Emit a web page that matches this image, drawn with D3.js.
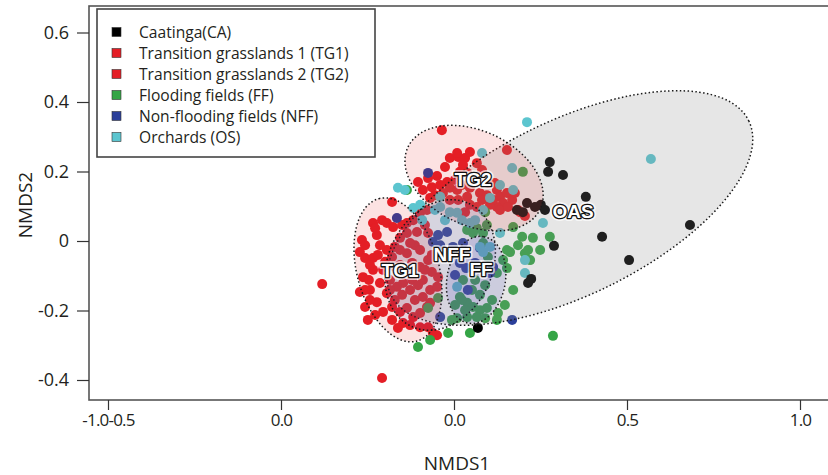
<!DOCTYPE html>
<html>
<head>
<meta charset="utf-8">
<script src="https://cdn.jsdelivr.net/npm/d3@7/dist/d3.min.js"></script>
<style>
  html, body { margin: 0; padding: 0; background: #fff; }
  svg { display: block; }
</style>
</head>
<body>
<svg id="chart" width="828" height="475"></svg>
<script>
// ---- data: NMDS scores per site (NMDS1, NMDS2) ----
const caatinga = [
  [0.277,0.227],[0.272,0.199],[0.315,0.190],[0.381,0.127],[0.428,0.012],[0.289,-0.014],
  [0.506,-0.055],[0.682,0.046],[0.223,-0.109],[0.214,-0.121],[0.182,0.089],[0.199,0.083],
  [0.211,0.109],[0.234,0.098],[0.251,0.104],[0.263,0.089],[0.069,-0.250]
];
const tg1 = [
  [-0.381,-0.124],[-0.208,-0.394],[-0.179,0.112],[-0.266,0.003],[-0.272,-0.032],[-0.257,-0.049],
  [-0.234,0.052],[-0.208,0.060],[-0.223,0.017],[-0.263,-0.104],[-0.246,-0.112],[-0.234,-0.083],
  [-0.257,-0.190],[-0.223,-0.176],[-0.179,-0.190],[-0.194,-0.150],[-0.150,-0.155],[-0.136,-0.193],
  [-0.118,-0.219],[-0.098,-0.207],[-0.078,-0.190],[-0.090,-0.161],[-0.069,-0.141],[-0.049,-0.132],
  [-0.046,-0.104],[-0.090,-0.112],[-0.121,-0.112],[-0.147,-0.121],[-0.205,-0.083],[-0.234,-0.049],
  [-0.194,-0.026],[-0.171,-0.017],[-0.156,0.009],[-0.136,0.023],[-0.107,0.026],[-0.118,0.060],
  [-0.098,0.081],[-0.078,0.089],[-0.084,0.046],[-0.136,-0.035],[-0.121,-0.063],[-0.098,-0.075],
  [-0.075,-0.055],[-0.171,-0.075],[-0.179,-0.046],[-0.243,-0.141],[-0.272,-0.147],[-0.165,-0.132],
  [-0.214,-0.121],[-0.194,0.052],[-0.176,0.040],[-0.136,0.052],[-0.064,-0.089],[-0.179,-0.227],
  [-0.147,-0.236],[-0.098,-0.248],[-0.075,-0.248],[-0.249,-0.227],[-0.156,-0.204],[-0.069,-0.178],
  [-0.061,-0.265],[-0.049,-0.271],[-0.214,-0.012],[-0.185,-0.112],[-0.113,-0.012],[-0.098,-0.026],
  [-0.156,-0.069],[-0.228,-0.213],
  [-0.257,-0.012],[-0.243,-0.069],[-0.220,-0.040],[-0.199,-0.060],[-0.185,-0.141],[-0.171,-0.170],
  [-0.142,-0.083],[-0.127,-0.141],[-0.113,-0.170],[-0.104,-0.127],[-0.084,-0.083],[-0.156,-0.026],
  [-0.127,-0.006],[-0.150,0.046],[-0.243,-0.170],[-0.205,-0.204],[-0.162,-0.250],[-0.127,-0.242],
  [-0.228,0.037],[-0.064,-0.040],[-0.257,-0.141]
];
const tg2 = [
  [-0.035,0.319],[-0.012,0.239],[0.012,0.242],[0.032,0.239],[0.046,0.256],[0.066,0.224],
  [0.017,0.199],[0.038,0.196],[0.081,0.204],[-0.104,0.170],[-0.090,0.147],[-0.064,0.155],
  [-0.040,0.161],[-0.020,0.170],[-0.055,0.132],[-0.032,0.138],[-0.012,0.153],[0.009,0.147],
  [-0.012,0.118],[0.012,0.118],[0.038,0.127],[0.046,0.104],[0.066,0.098],[0.124,0.147],
  [0.133,0.127],[0.153,0.138],[0.168,0.118],[0.142,0.109],[0.124,0.098],[0.104,0.104],
  [0.153,0.262],[0.185,0.089],[0.205,0.072],[0.133,0.089],[0.075,0.138],[0.046,0.153],
  [0.032,0.083],[0.009,0.253],[-0.075,0.023],[0.098,0.167],[0.191,0.083],
  [-0.075,0.181],[-0.049,0.187],[0.003,0.176],[0.023,0.161],[0.095,0.132],[0.113,0.118],
  [0.081,0.118],[0.156,0.098],[0.176,0.138],[0.026,0.219],[-0.026,0.213],[-0.069,0.124],
  [0.118,0.167]
];
const ff = [
  [0.199,0.199],[-0.136,0.147],[0.090,0.083],[0.038,0.032],[0.066,0.037],[0.095,0.046],
  [0.171,0.040],[0.197,0.012],[0.228,0.009],[0.277,0.012],[0.084,0.023],[0.162,-0.032],
  [0.205,-0.035],[0.153,-0.026],[0.142,-0.055],[0.153,-0.078],[0.098,-0.046],[0.124,-0.092],
  [0.171,-0.141],[0.127,-0.207],[0.286,-0.273],[-0.075,-0.193],[-0.046,-0.164],[-0.006,-0.227],
  [0.009,-0.222],[-0.017,-0.265],[0.046,-0.265],[0.017,-0.161],[0.038,-0.178],[0.055,-0.190],
  [0.075,-0.199],[0.095,-0.193],[0.124,-0.227],[0.066,-0.219],[0.038,-0.219],[-0.104,-0.305],
  [-0.069,-0.285],[0.023,-0.170],[0.052,-0.141],[0.075,-0.155],[0.090,-0.127],[0.061,-0.112],
  [0.026,-0.112],[0.220,-0.055],[0.214,-0.026],[0.055,0.023],[0.084,-0.006],
  [0.003,-0.184],[0.032,-0.199],[0.090,-0.222],[0.110,-0.170],[0.147,-0.184],[0.185,-0.012],
  [0.249,-0.026]
];
const nff = [
  [-0.075,0.196],[-0.165,0.066],[-0.046,0.017],[-0.020,0.026],[-0.040,-0.012],[-0.003,-0.017],
  [0.017,-0.063],[0.035,-0.078],[0.075,-0.020],[0.113,-0.075],[0.040,-0.141],[-0.040,-0.219],
  [0.168,-0.227],[0.104,-0.092],[0.026,-0.006],[-0.026,-0.040],[-0.061,-0.003],[0.003,-0.098],
  [0.061,-0.063]
];
const orchards = [
  [0.211,0.342],[0.569,0.236],[0.081,0.253],[0.168,0.210],[0.171,0.147],[0.133,0.161],
  [0.104,0.124],[0.257,0.052],[0.133,0.023],[0.205,-0.055],[0.205,-0.092],[0.104,-0.017],
  [0.084,-0.032],[-0.162,0.153],[-0.142,0.147],[-0.118,0.095],[-0.098,0.104],[-0.092,0.060],
  [-0.055,0.089],[-0.040,0.098],[-0.012,0.083],[0.009,0.081],[-0.026,0.060],[0.023,0.060],
  [0.046,0.052],[0.061,0.060],[0.084,0.089],[0.009,-0.132],[0.075,-0.017],[-0.040,0.127]
];

// legend entries
const legendLabels = [
  "Caatinga(CA)",
  "Transition grasslands 1 (TG1)",
  "Transition grasslands 2 (TG2)",
  "Flooding fields (FF)",
  "Non-flooding fields (NFF)",
  "Orchards (OS)"
];
const legendColors = ["#000000", "#e41e26", "#e41e26", "#35a546", "#2b3f9a", "#5cc5cf"];

// dispersion ellipses: centre, semi-axes (NMDS units), rotation (degrees)
const ellipseNames = ["CA", "TG2", "TG1", "NFF", "FF"];
const ellipseCx    = [0.335, 0.058, -0.162, -0.040, 0.064];
const ellipseCy    = [0.095, 0.181, -0.083, -0.069, -0.112];
const ellipseA     = [0.575, 0.211, 0.213, 0.196, 0.127];
const ellipseB     = [0.251, 0.136, 0.118, 0.150, 0.084];
const ellipseAngle = [26, -25, 105, 65, 80];
const ellipseFill  = ["rgba(140,140,140,0.22)", "rgba(230,30,30,0.13)", "rgba(230,30,30,0.13)",
                      "rgba(90,70,170,0.11)", "rgba(60,60,180,0.15)"];

// group labels
const groupLabels = ["TG2", "TG1", "NFF", "FF", "OAS"];
const groupLabelX = [0.055, -0.156, -0.006, 0.078, 0.344];
const groupLabelY = [0.178, -0.086, -0.040, -0.083, 0.086];

// axes
const xTickValues = [-1.0, -0.5, 0.0, 0.5, 1.0];
const xTickLabels = ["-1.0-0.5", "0.0", "0.0", "0.5", "1.0"];
const yTickValues = [-0.4, -0.2, 0, 0.2, 0.4, 0.6];
const yTickLabels = ["-0.4", "-0.2", "0", "0.2", "0.4", "0.6"];

// ---- drawing ----
const svg = d3.select("#chart");
const box = { left: 89, top: 6, right: 829, bottom: 400 };

const x = d3.scaleLinear().domain([-1, 1]).range([108, 800]);
const y = d3.scaleLinear().domain([-0.4, 0.6]).range([380, 32.5]);

const axisFont = "'Open Sans', 'DejaVu Sans', sans-serif";
const textColor = "#231f20";

// plot frame
svg.append("rect")
  .attr("x", box.left).attr("y", box.top)
  .attr("width", box.right - box.left).attr("height", box.bottom - box.top)
  .attr("fill", "none").attr("stroke", "#555").attr("stroke-width", 1.6);

// points
const groups = [
  { data: tg1, color: legendColors[1] },
  { data: tg2, color: legendColors[2] },
  { data: ff, color: legendColors[3] },
  { data: nff, color: legendColors[4] },
  { data: orchards, color: legendColors[5] },
  { data: caatinga, color: legendColors[0] }
];
const pts = svg.append("g");
groups.forEach(g => {
  pts.selectAll(null).data(g.data).enter().append("circle")
    .attr("cx", d => x(d[0])).attr("cy", d => y(d[1]))
    .attr("r", 5).attr("fill", g.color);
});

// ellipses (drawn over the points, translucent)
const kx = x(1) - x(0), ky = y(0) - y(1);
const ell = svg.append("g");
ellipseNames.forEach((n, i) => {
  ell.append("ellipse")
    .attr("transform", `translate(${x(ellipseCx[i])},${y(ellipseCy[i])}) rotate(${-ellipseAngle[i]})`)
    .attr("rx", ellipseA[i] * kx).attr("ry", ellipseB[i] * ky)
    .attr("fill", ellipseFill[i])
    .attr("stroke", "#1a1a1a").attr("stroke-width", 1.5)
    .attr("stroke-dasharray", "1.5,2.4");
});

// group labels: white letters with dark outline
const lab = svg.append("g")
  .attr("font-family", "'Liberation Sans', Arial, sans-serif")
  .attr("font-size", 19).attr("font-weight", "bold")
  .attr("text-anchor", "middle").attr("dominant-baseline", "central");
groupLabels.forEach((t, i) => {
  lab.append("text").attr("x", x(groupLabelX[i])).attr("y", y(groupLabelY[i]))
    .attr("fill", "none").attr("stroke", "#fff").attr("stroke-width", 6)
    .attr("stroke-opacity", 0.7).attr("stroke-linejoin", "round").text(t);
  lab.append("text").attr("x", x(groupLabelX[i])).attr("y", y(groupLabelY[i]))
    .attr("fill", "#fff").attr("stroke", "#111").attr("stroke-width", 2.6)
    .attr("paint-order", "stroke").attr("stroke-linejoin", "round").text(t);
});

// y axis
const yAxis = svg.append("g").attr("transform", `translate(${box.left},0)`)
  .call(d3.axisLeft(y).tickValues(yTickValues).tickSize(12).tickPadding(8)
    .tickFormat((d, i) => yTickLabels[i]));
yAxis.select(".domain").remove();
yAxis.selectAll("line").attr("stroke", "#333").attr("stroke-width", 1.2);
yAxis.selectAll("text").attr("font-family", axisFont).attr("font-size", 18).attr("fill", textColor);

// x axis
const xAxis = svg.append("g").attr("transform", `translate(0,${box.bottom})`)
  .call(d3.axisBottom(x).tickValues(xTickValues).tickSize(10).tickPadding(4)
    .tickFormat((d, i) => xTickLabels[i]));
xAxis.select(".domain").remove();
xAxis.selectAll("line").attr("stroke", "#333").attr("stroke-width", 1.2);
xAxis.selectAll("text").attr("font-family", axisFont).attr("font-size", 17)
  .attr("fill", textColor).attr("letter-spacing", -0.8);

// axis titles
svg.append("text").attr("x", 457).attr("y", 470).attr("text-anchor", "middle")
  .attr("font-family", axisFont).attr("font-size", 19).attr("fill", textColor)
  .text("NMDS1");
svg.append("text").attr("transform", "translate(32,205) rotate(-90)").attr("text-anchor", "middle")
  .attr("font-family", axisFont).attr("font-size", 19).attr("fill", textColor)
  .text("NMDS2");

// legend
const lg = svg.append("g");
lg.append("rect").attr("x", 97).attr("y", 9).attr("width", 278).attr("height", 148)
  .attr("fill", "#fff").attr("stroke", "#444").attr("stroke-width", 1.6);
legendLabels.forEach((t, i) => {
  const cy = 32 + i * 21;
  lg.append("rect").attr("x", 112).attr("y", cy - 4.5).attr("width", 9).attr("height", 9)
    .attr("fill", legendColors[i]).attr("stroke", "#333").attr("stroke-width", 0.6);
  lg.append("text").attr("x", 139).attr("y", cy).attr("dominant-baseline", "central")
    .attr("font-family", axisFont).attr("font-size", 15.6).attr("fill", textColor).text(t);
});
</script>
</body>
</html>
